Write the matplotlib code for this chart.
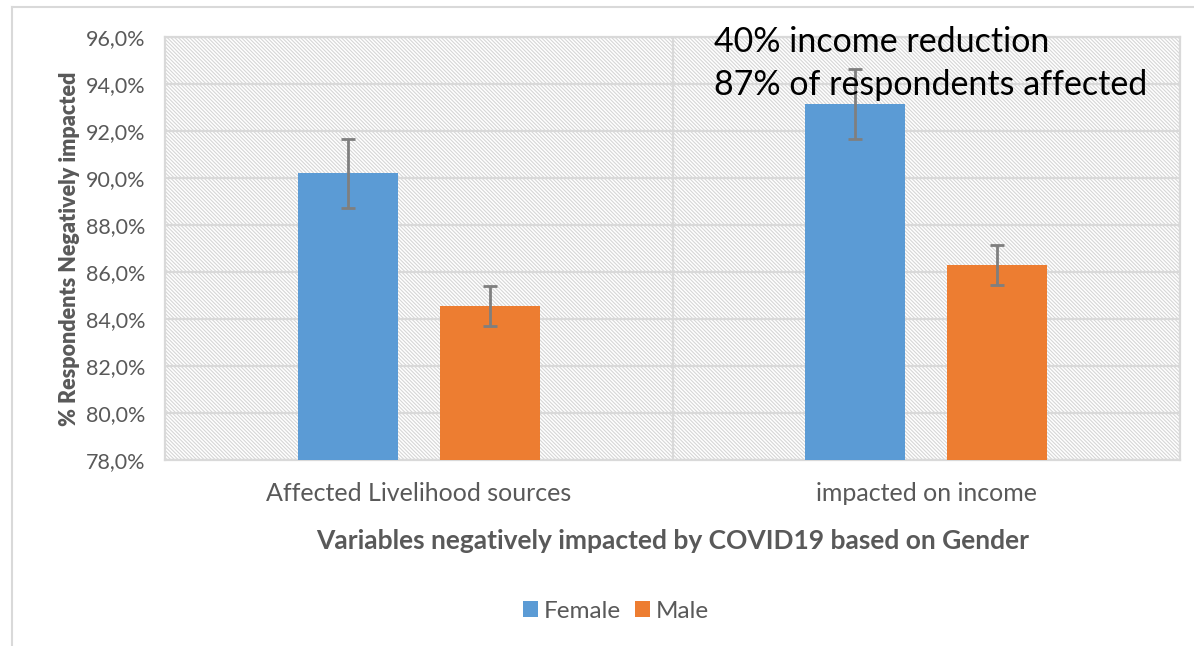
import matplotlib
matplotlib.use("Agg")
import matplotlib.pyplot as plt
from matplotlib.lines import Line2D
import numpy as np

categories = ["Affected Livelihood sources", "impacted on income"]
female = [90.2, 93.15]
male = [84.55, 86.3]
female_err = [1.47, 1.49]
male_err = [0.85, 0.87]
yticks = [78, 80, 82, 84, 86, 88, 90, 92, 94, 96]
annotation = ["40% income reduction", "87% of respondents affected"]

FONT = "Lato"
GRAY = "#595959"
plt.rcParams["font.family"] = [FONT, "DejaVu Sans"]
plt.rcParams["hatch.color"] = "#d6d6d6"
plt.rcParams["hatch.linewidth"] = 0.8

fig = plt.figure(figsize=(11.94, 6.46), dpi=100)
ax = fig.add_axes([165/1194, 1-460/646, (1180-165)/1194, (460-37)/646])

# hatched background of plot area
ax.add_patch(plt.Rectangle((0, 0), 1, 1, transform=ax.transAxes, facecolor="white",
                           edgecolor="#d6d6d6", hatch="\\" * 9, lw=0, zorder=0))
ax.set_facecolor("white")

x = np.arange(len(categories))
off, w = 0.14, 0.197
ekw = dict(ecolor="#7f7f7f", elinewidth=2, capsize=5, capthick=2)
ax.bar(x - off, female, w, color="#5b9bd5", yerr=female_err,
       error_kw=ekw, label="Female", zorder=3)
ax.bar(x + off, male, w, color="#ed7d31", yerr=male_err,
       error_kw=ekw, label="Male", zorder=3)

ax.set_xlim(-0.5, 1.5)
ax.set_ylim(78, 96)
ax.set_yticks(yticks)
ax.set_yticklabels([f"{v:.1f}%".replace(".", ",") for v in yticks],
                   fontsize=15.5, color=GRAY)
ax.set_xticks(x)
ax.set_xticklabels(categories, fontsize=18, color=GRAY)
ax.tick_params(axis="both", length=0)
ax.tick_params(axis="y", pad=14)
ax.tick_params(axis="x", pad=16)
ax.grid(axis="y", color="#d9d9d9", lw=1.6, zorder=1)
ax.axvline(0.5, color="#d9d9d9", lw=1.6, zorder=1)
for s in ax.spines.values():
    s.set_color("#d9d9d9")
    s.set_linewidth(1.6)

ax.set_xlabel("Variables negatively impacted by COVID19 based on Gender",
              fontsize=19, fontweight="bold", color=GRAY, labelpad=17)
ax.set_ylabel("% Respondents Negatively impacted", fontsize=15.5,
              fontweight="heavy", color=GRAY, labelpad=4)

fig.text(714/1194, 1-42/646, annotation[0], fontsize=24.5, color="black",
         ha="left", va="center")
fig.text(714/1194, 1-85/646, annotation[1], fontsize=24.5, color="black",
         ha="left", va="center")

leg = fig.legend(loc="center", bbox_to_anchor=(616/1194, 1-611/646), ncol=2,
                 frameon=False, fontsize=17.5, handlelength=0.6, handleheight=0.6,
                 handletextpad=0.25, columnspacing=0.6)
for t in leg.get_texts():
    t.set_color(GRAY)

# outer chart border (cropped on right and bottom)
fig.add_artist(Line2D([12/1194, 12/1194], [0, 1-7/646], transform=fig.transFigure,
                      color="#d9d9d9", lw=1.5))
fig.add_artist(Line2D([12/1194, 1], [1-7/646, 1-7/646], transform=fig.transFigure,
                      color="#d9d9d9", lw=1.5))

fig.savefig("out.png", dpi=100)
